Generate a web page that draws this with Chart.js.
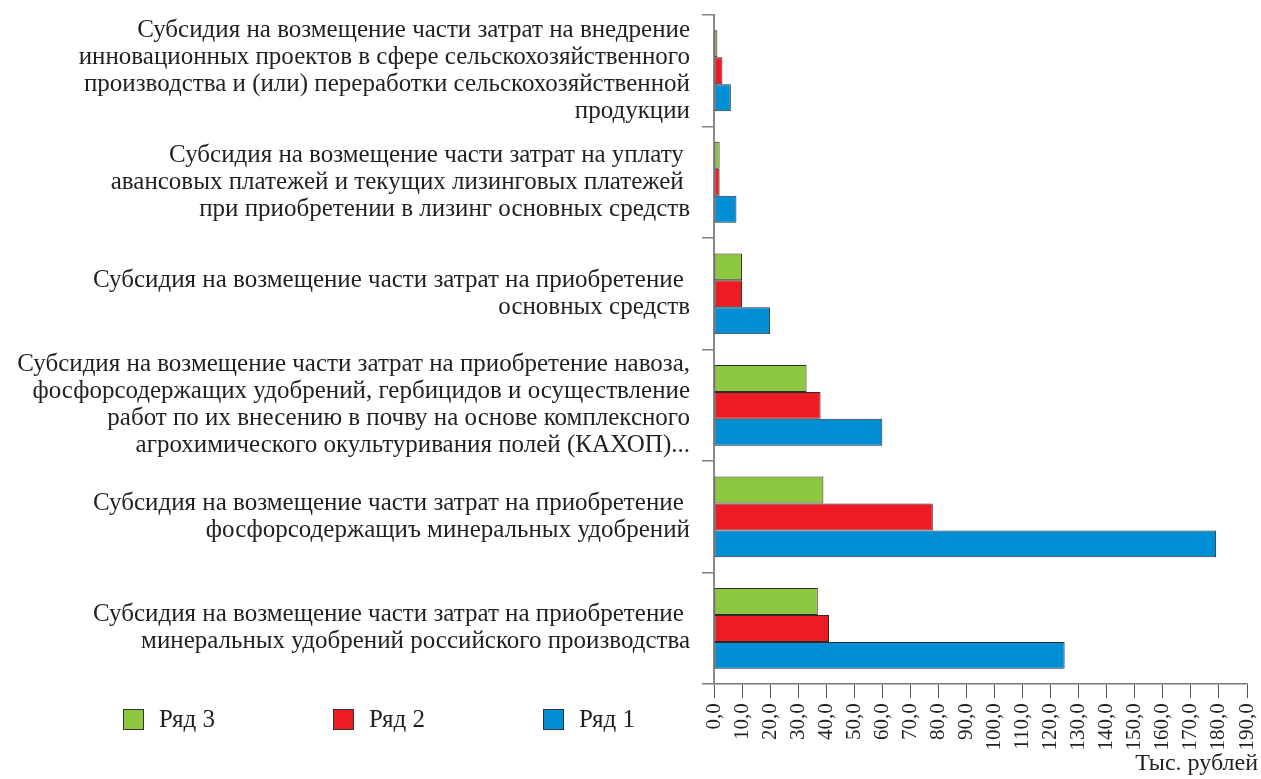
<!DOCTYPE html>
<html>
<head>
<meta charset="utf-8">
<title>Субсидии</title>
<script src="https://cdn.jsdelivr.net/npm/chart.js@4"></script>
<style>
    html, body { margin: 0; padding: 0; background: #fff; }
    #wrap { width: 1261px; height: 779px; position: relative; }
</style>
</head>
<body>
<div id="wrap"><canvas id="myChart"></canvas></div>
<script>
// категории (сверху вниз)
const categories = [
    ['Субсидия на возмещение части затрат на внедрение', 'инновационных проектов в сфере сельскохозяйственного', 'производства и (или) переработки сельскохозяйственной', 'продукции'],
    ['Субсидия на возмещение части затрат на уплату ', 'авансовых платежей и текущих лизинговых платежей ', 'при приобретении в лизинг основных средств'],
    ['Субсидия на возмещение части затрат на приобретение ', 'основных средств'],
    ['Субсидия на возмещение части затрат на приобретение навоза,', 'фосфорсодержащих удобрений, гербицидов и осуществление', 'работ по их внесению в почву на основе комплексного', 'агрохимического окультуривания полей (КАХОП)...'],
    ['Субсидия на возмещение части затрат на приобретение ', 'фосфорсодержащиъ минеральных удобрений'],
    ['Субсидия на возмещение части затрат на приобретение ', 'минеральных удобрений российского производства']
];

const row3 = [1.2, 2, 10, 33, 39, 37];
const row2 = [3, 2, 10, 38, 78, 41];
const row1 = [6, 8, 20, 60, 179, 125];

const seriesNames = ['Ряд 3', 'Ряд 2', 'Ряд 1'];
const tickValues = [0, 10, 20, 30, 40, 50, 60, 70, 80, 90, 100, 110, 120, 130, 140, 150, 160, 170, 180, 190];
const axisTitle = 'Тыс. рублей';

const serif = '"Liberation Serif", "Times New Roman", serif';
const textColor = '#231f20';

// легенда под осью, слева
const bottomLegend = {
    id: 'bottomLegend',
    afterDraw(chart) {
        const ctx = chart.ctx;
        const xs = [123, 333, 543];
        chart.data.datasets.forEach((ds, i) => {
            const x = xs[i];
            const y = 709;
            ctx.save();
            ctx.fillStyle = ds.backgroundColor;
            ctx.fillRect(x, y, 21, 21);
            ctx.strokeStyle = '#333';
            ctx.lineWidth = 1;
            ctx.strokeRect(x + 0.5, y + 0.5, 20, 20);
            ctx.fillStyle = textColor;
            ctx.font = '25px ' + serif;
            ctx.textBaseline = 'middle';
            ctx.fillText(ds.label, x + 36, y + 11);
            ctx.restore();
        });
    }
};

const ctx = document.getElementById('myChart').getContext('2d');

const myChart = new Chart(ctx, { // eslint-disable-line
    type: 'bar',
    data: {
        labels: categories,
        datasets: [{
            label: seriesNames[0],
            data: row3,
            backgroundColor: '#8dc63f'
        },
        {
            label: seriesNames[1],
            data: row2,
            backgroundColor: '#ed1c24'
        },
        {
            label: seriesNames[2],
            data: row1,
            backgroundColor: '#008fd5'
        }]
    },
    options: {
        indexAxis: 'y',
        responsive: true,
        maintainAspectRatio: false,
        animation: false,
        layout: { padding: { top: 15, right: 3, left: 0, bottom: 0 } },
        datasets: {
            bar: {
                categoryPercentage: 0.725,
                barPercentage: 1.0,
                borderWidth: 1,
                borderColor: '#2b2b2b',
                borderSkipped: false
            }
        },
        plugins: {
            legend: { display: false },
            tooltip: { enabled: false },
            title: {
                display: true,
                text: axisTitle,
                position: 'bottom',
                align: 'end',
                color: textColor,
                font: { family: serif, size: 24, weight: 'normal' },
                padding: { top: 0, bottom: 1 }
            }
        },
        scales: {
            x: {
                min: 0,
                max: 190,
                afterBuildTicks: (scale) => {
                    scale.ticks = tickValues.map(v => ({ value: v }));
                },
                grid: { drawOnChartArea: false, tickLength: 14, color: '#555' },
                border: { color: '#777', width: 1.5 },
                ticks: {
                    color: textColor,
                    minRotation: 90,
                    maxRotation: 90,
                    padding: 5,
                    autoSkip: false,
                    font: { family: serif, size: 21 },
                    callback: (v) => Number(v).toFixed(1).replace('.', ',')
                },
                afterFit: (scale) => {
                    scale.height = 65;
                    scale.paddingRight = 14;
                }
            },
            y: {
                grid: { offset: true, drawOnChartArea: false, tickLength: 12, color: '#808080', lineWidth: 1.5 },
                border: { color: '#8a8a8a', width: 2 },
                ticks: {
                    color: textColor,
                    padding: 12,
                    autoSkip: false,
                    font: { family: serif, size: 25, lineHeight: '27px' }
                },
                afterFit: (scale) => {
                    scale.width = 714;
                    scale.paddingTop = 0;
                    scale.paddingBottom = 0;
                }
            }
        }
    },
    plugins: [bottomLegend]
});
</script>
</body>
</html>
